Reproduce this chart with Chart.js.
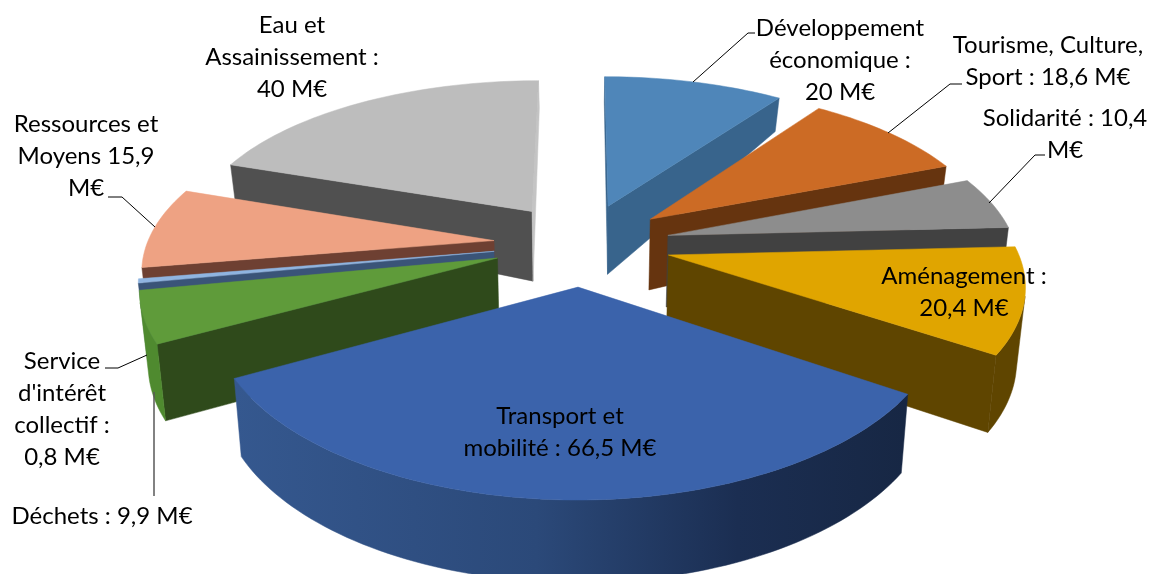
<!DOCTYPE html>
<html lang="fr">
<head>
<meta charset="utf-8">
<title>Budget par secteur</title>
<script src="https://cdn.jsdelivr.net/npm/chart.js@4"></script>
<style>
  html, body { margin: 0; padding: 0; background: #fff; }
  canvas { display: block; }
</style>
</head>
<body>
<canvas id="myChart" width="1152" height="574"></canvas>
<script>
const categories = ['Développement économique', 'Tourisme, Culture, Sport', 'Solidarité', 'Aménagement',
    'Transport et mobilité', 'Déchets', "Service d'intérêt collectif", 'Ressources et Moyens', 'Eau et Assainissement'];
const values = [20, 18.6, 10.4, 20.4, 66.5, 9.9, 0.8, 15.9, 40];

const topColors = ['#4f86b9', '#cc6b25', '#8d8d8d', '#e0a500', '#3b63ab', '#5f9b3a', '#8fb4e0', '#eea283', '#bdbdbd'];
const wallColors = ['#38648c', '#66340f', '#414141', '#5f4500', '#33558f', '#2f4a1b', '#3a5478', '#6e4032', '#505050'];
const endWallColors = ['#38648c', '#66340f', '#414141', '#5f4500', '#33558f', '#2f4a1b', '#3a5478', '#6e4032', '#c4c4c4'];
const rimColors = ['#3d6d99', '#7a3f14', '#5f5f5f', '#5f4500', '#33558f', '#4f8a2f', '#3a5478', '#7a4a3a', '#c4c4c4'];

// text and leader lines of each label
const labelLines = [
    ['Développement', 'économique :', '20 M€'],
    ['Tourisme, Culture,', 'Sport : 18,6 M€'],
    ['Solidarité : 10,4', 'M€'],
    ['Aménagement :', '20,4 M€'],
    ['Transport et', 'mobilité : 66,5 M€'],
    ['Déchets : 9,9 M€'],
    ['Service', "d'intérêt", 'collectif :', '0,8 M€'],
    ['Ressources et', 'Moyens 15,9', 'M€'],
    ['Eau et', 'Assainissement :', '40 M€']
];
const labelAnchors = [[840, 28], [1048, 45], [1065, 118], [964, 276], [560, 416], [102, 516], [62, 361], [86, 124], [292, 25]];
const leaders = [
    [[693, 82], [748, 33], [755, 33]],
    [[888, 133], [950, 84], [962, 84]],
    [[989, 203], [1035, 155], [1045, 155]],
    null,
    null,
    [[154, 392], [154, 496]],
    [[147, 355], [118, 368], [105, 368]],
    [[155, 227], [122, 197], [108, 197]],
    null
];

// camera for the flat pie
const view = { cx: 582, cy: 244, rx: 347, ry: 162, perspX: 0.152, perspY: 0.164 };

function project(X, Y) {
    return [view.cx + view.rx * X / (1 + view.perspX * Y), view.cy - view.ry * Y / (1 + view.perspY * Y)];
}

// wall height is not constant, the back of the pie gets much thinner
function dropped(X, Y) {
    const p = project(X, Y);
    const h = Y < 0.2 ? 72 - 8.4 * Y : 70 - (Y - 0.2) * 42.7;
    return [view.cx + (p[0] - view.cx) * 0.98, p[1] + h];
}

function polyArea(pts) {
    let a = 0;
    pts.forEach((p, i) => {
        const q = pts[(i + 1) % pts.length];
        a += p[0] * q[1] - q[0] * p[1];
    });
    return a / 2;
}

function fillPoly(ctx, pts, color) {
    ctx.beginPath();
    pts.forEach((p, i) => i ? ctx.lineTo(p[0], p[1]) : ctx.moveTo(p[0], p[1]));
    ctx.closePath();
    ctx.fillStyle = color;
    ctx.fill();
    ctx.strokeStyle = color;
    ctx.lineWidth = 0.5;
    ctx.stroke();
}

const pie3d = {
    id: 'pie3d',
    beforeDatasetDraw(chart, args) {
        const ctx = chart.ctx;
        const arcs = chart.getDatasetMeta(args.index).data;

        const slices = arcs.map((arc, i) => {
            const R = arc.outerRadius;
            const e = arc.options.offset / 4 / R;
            const mid = (arc.startAngle + arc.endAngle) / 2;
            const ox = Math.cos(mid) * e;
            const oy = -Math.sin(mid) * e;
            const n = Math.max(2, Math.ceil((arc.endAngle - arc.startAngle) * 40));
            const rim = [];
            for (let k = 0; k <= n; k++) {
                const a = arc.startAngle + (arc.endAngle - arc.startAngle) * k / n;
                rim.push([ox + Math.cos(a), oy - Math.sin(a)]);
            }
            return { i, ox, oy, rim };
        }).sort((a, b) => b.oy - a.oy);

        slices.forEach(({ i, ox, oy, rim }) => {
            const apexT = project(ox, oy);
            const apexB = dropped(ox, oy);
            const first = rim[0];
            const last = rim[rim.length - 1];

            const startFace = [apexT, project(first[0], first[1]), dropped(first[0], first[1]), apexB];
            if (polyArea(startFace) < 0) fillPoly(ctx, startFace, wallColors[i]);
            const endFace = [apexT, project(last[0], last[1]), dropped(last[0], last[1]), apexB];
            if (polyArea(endFace) > 0) fillPoly(ctx, endFace, endWallColors[i]);

            let rimFill = rimColors[i];
            if (categories[i].startsWith('Transport')) {
                rimFill = ctx.createLinearGradient(235, 0, 905, 0);
                rimFill.addColorStop(0, '#35588f');
                rimFill.addColorStop(0.45, '#2b4979');
                rimFill.addColorStop(0.75, '#1b2e52');
                rimFill.addColorStop(1, '#172744');
            }
            // only the part of the rim that faces the viewer
            let run = [];
            const flush = () => {
                if (run.length > 1) {
                    const t = run.map(p => project(p[0], p[1]));
                    const b = run.map(p => dropped(p[0], p[1])).reverse();
                    fillPoly(ctx, t.concat(b), rimFill);
                }
                run = [];
            };
            for (let k = 0; k < rim.length - 1; k++) {
                const p = rim[k], q = rim[k + 1];
                const quad = [project(p[0], p[1]), project(q[0], q[1]), dropped(q[0], q[1]), dropped(p[0], p[1])];
                if (polyArea(quad) < 0) {
                    if (!run.length) run.push(p);
                    run.push(q);
                } else {
                    flush();
                }
            }
            flush();

            const top = [apexT].concat(rim.map(p => project(p[0], p[1])));
            fillPoly(ctx, top, topColors[i]);
        });
        return false;
    },
    afterDraw(chart) {
        const ctx = chart.ctx;
        ctx.save();
        leaders.forEach((line, i) => {
            if (!line) return;
            ctx.beginPath();
            line.forEach((p, k) => k ? ctx.lineTo(p[0], p[1]) : ctx.moveTo(p[0], p[1]));
            ctx.strokeStyle = categories[i] === 'Déchets' ? '#595959' : '#000';
            ctx.lineWidth = categories[i] === 'Déchets' ? 1.5 : 1;
            ctx.stroke();
        });
        ctx.fillStyle = '#000';
        ctx.font = '24px Lato';
        ctx.textAlign = 'center';
        ctx.textBaseline = 'middle';
        labelLines.forEach((lines, i) => {
            lines.forEach((t, k) => {
                ctx.fillText(t, labelAnchors[i][0], labelAnchors[i][1] + k * 32);
            });
        });
        ctx.restore();
    }
};

const data = {
    labels: categories,
    datasets: [{
        data: values,
        backgroundColor: topColors,
        borderWidth: 0,
        offset: 194
    }]
};

const config = {
    type: 'pie',
    data: data,
    options: {
        responsive: false,
        animation: false,
        events: [],
        plugins: { legend: { display: false }, tooltip: { enabled: false } }
    },
    plugins: [pie3d]
};

const myChart = new Chart(document.getElementById('myChart'), config);
</script>
</body>
</html>
